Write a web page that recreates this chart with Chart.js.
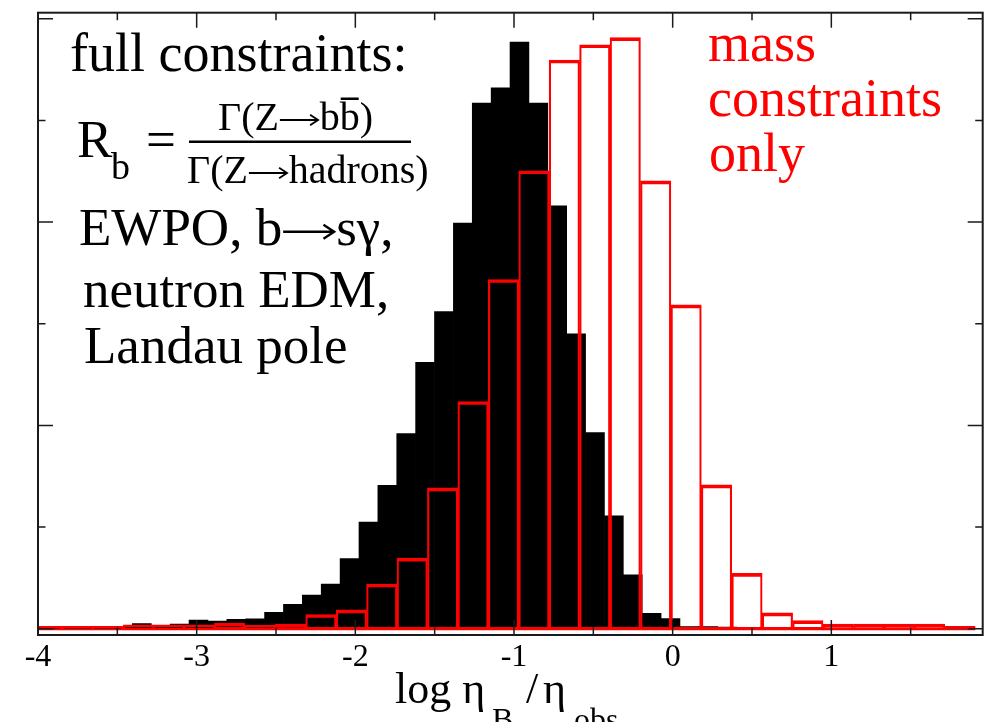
<!DOCTYPE html>
<html>
<head>
<meta charset="utf-8">
<script src="https://cdn.jsdelivr.net/npm/chart.js@4.4.0/dist/chart.umd.min.js"></script>
<style>
  html, body { margin: 0; padding: 0; background: #fff; }
</style>
</head>
<body>
<canvas id="histo" width="995" height="722"></canvas>
<script>
// full constraints histogram (black, filled): 50 bins of 0.119 from -4
var blackStart = -4.0;
var blackWidth = 0.119;
var blackCounts = [0.015, 0.015, 0.015, 0.015, 0.02, 0.05, 0.025, 0.046, 0.086, 0.076,
                   0.093, 0.096, 0.16, 0.24, 0.33, 0.44, 0.69, 1.05, 1.41, 1.92,
                   2.62, 3.12, 3.99, 5.17, 5.32, 5.77, 5.17, 4.16, 2.90, 1.93,
                   1.11, 0.53, 0.15, 0.10, 0.02, 0.02, 0.015, 0.01, 0, 0,
                   0, 0, 0, 0, 0, 0, 0, 0, 0, 0];

// mass constraints only (red, outlined): 31 bins of 0.1918
var redStart = -4.039;
var redWidth = 0.1918;
var redCounts = [0.024, 0.024, 0.024, 0.037, 0.037, 0.037, 0.056, 0.034, 0.046, 0.14,
                 0.185, 0.44, 0.695, 1.385, 2.235, 3.435, 4.505, 5.595, 5.745, 5.815,
                 4.405, 3.185, 1.415, 0.545, 0.155, 0.08, 0.046, 0.046, 0.046, 0.046,
                 0.024];

var xTicks = [-4, -3, -2, -1, 0, 1];
var xMinor = [-3.5, -2.5, -1.5, -0.5, 0.5, 1.5];
var yMajor = [0, 2, 4, 6];
var yMinor = [1, 3, 5];

var serif = "'Liberation Serif', 'Times New Roman', serif";

function toPoints(start, width, counts) {
	var pts = [];
	for (var i = 0; i < counts.length; i++) {
		pts.push({ x: start + (i + 0.5) * width, y: counts[i] });
	}
	return pts;
}

function setTicks(axis) {
	axis.ticks = xTicks.map(function(v) { return { value: v }; });
}

// frame + inward ticks, like the original plot
var framePlugin = {
	id: 'frame',
	afterDatasetsDraw: function(chart) {
		var ctx = chart.ctx, a = chart.chartArea;
		var xs = chart.scales.x, ys = chart.scales.y;
		ctx.save();
		ctx.strokeStyle = '#1a1a1a';
		ctx.lineWidth = 1.5;
		ctx.beginPath();
		function xt(list, len) {
			list.forEach(function(v) {
				var px = xs.getPixelForValue(v);
				ctx.moveTo(px, a.bottom); ctx.lineTo(px, a.bottom - len);
				ctx.moveTo(px, a.top); ctx.lineTo(px, a.top + len);
			});
		}
		function yt(list, len) {
			list.forEach(function(v) {
				var py = ys.getPixelForValue(v);
				ctx.moveTo(a.left, py); ctx.lineTo(a.left + len, py);
				ctx.moveTo(a.right, py); ctx.lineTo(a.right - len, py);
			});
		}
		xt(xTicks, 15); xt(xMinor, 7.5);
		yt(yMajor, 15); yt(yMinor, 7.5);
		ctx.stroke();
		ctx.lineWidth = 2;
		ctx.strokeRect(a.left, a.top, a.right - a.left, a.bottom - a.top);
		ctx.restore();
	}
};

// draws a run of text pieces; '>' is a hand drawn long arrow
function run(ctx, parts, x, y, size, color) {
	ctx.font = size + 'px ' + serif;
	ctx.fillStyle = color;
	ctx.strokeStyle = color;
	var pos = [];
	parts.forEach(function(p) {
		pos.push(x);
		if (p === '>') {
			var len = size * 0.98, ay = y - size * 0.25;
			ctx.lineWidth = Math.max(1.5, size * 0.045);
			ctx.beginPath();
			ctx.moveTo(x + 1, ay); ctx.lineTo(x + len, ay);
			ctx.moveTo(x + len - size * 0.2, ay - size * 0.13);
			ctx.lineTo(x + len, ay);
			ctx.lineTo(x + len - size * 0.2, ay + size * 0.13);
			ctx.stroke();
			x += len + size * 0.04;
		} else {
			ctx.fillText(p, x, y);
			x += ctx.measureText(p).width;
		}
	});
	pos.push(x);
	return pos;
}

var textPlugin = {
	id: 'notes',
	afterDraw: function(chart) {
		var ctx = chart.ctx;
		ctx.save();
		ctx.textBaseline = 'alphabetic';
		ctx.textAlign = 'left';

		run(ctx, ['full constraints:'], 70, 71, 54, '#000');

		// R_b = fraction
		run(ctx, ['R'], 77, 157, 53, '#000');
		run(ctx, ['b'], 111, 179, 38, '#000');
		run(ctx, ['='], 146, 157, 53, '#000');
		var num = run(ctx, ['\u0393(Z', '>', 'b', 'b', ')'], 218, 130, 40, '#000');
		ctx.fillRect(num[3] + 1, 97.5, num[4] - num[3] - 2, 2.5);
		ctx.fillRect(189, 140.5, 222, 2.5);
		run(ctx, ['\u0393(Z', '>', 'hadrons)'], 187, 183, 40, '#000');

		run(ctx, ['EWPO, b', '>', 's\u03b3,'], 79, 245, 53, '#000');
		run(ctx, ['neutron EDM,'], 83, 307, 53, '#000');
		run(ctx, ['Landau pole'], 84, 363, 53, '#000');

		run(ctx, ['mass'], 708, 61, 54, '#ff0000');
		run(ctx, ['constraints'], 708, 116, 54, '#ff0000');
		run(ctx, ['only'], 709, 171, 54, '#ff0000');

		// axis title: log eta_B / eta_obs
		run(ctx, ['log \u03b7'], 395, 703, 44, '#000');
		run(ctx, ['B'], 492, 730, 32, '#000');
		run(ctx, ['/'], 526, 703, 44, '#000');
		run(ctx, ['\u03b7'], 543, 703, 44, '#000');
		run(ctx, ['obs'], 574, 730, 32, '#000');
		ctx.restore();
	}
};

window.onload = function() {
	var ctx = document.getElementById('histo');
	window.histo = new Chart(ctx, {
		type: 'bar',
		data: {
			datasets: [{
				label: 'full constraints',
				data: toPoints(blackStart, blackWidth, blackCounts),
				xAxisID: 'x',
				backgroundColor: '#000000',
				borderWidth: 0,
				clip: 0,
				order: 2
			}, {
				label: 'mass constraints only',
				data: toPoints(redStart, redWidth, redCounts),
				xAxisID: 'x2',
				backgroundColor: 'rgba(255,255,255,0)',
				borderColor: '#ff0000',
				borderWidth: { top: 3, bottom: 3, left: 1.5, right: 1.5 },
				borderSkipped: false,
				base: -0.015,
				clip: 0,
				order: 1
			}]
		},
		options: {
			responsive: false,
			animation: false,
			devicePixelRatio: 1,
			datasets: { bar: { barPercentage: 1, categoryPercentage: 1, grouped: false } },
			layout: { padding: { left: 38, right: 12.3, top: 12.7, bottom: 42.6 } },
			plugins: { legend: { display: false }, tooltip: { enabled: false } },
			scales: {
				x: {
					type: 'linear', min: -4, max: 1.954, offset: false,
					afterBuildTicks: setTicks,
					grid: { display: false, drawTicks: false, offset: false },
					border: { display: false },
					ticks: {
						color: '#000', padding: 3,
						font: { family: serif, size: 32 },
						callback: function(v) { return String(v); }
					}
				},
				x2: {
					type: 'linear', min: -4, max: 1.954, display: false, offset: false,
					grid: { offset: false },
					afterBuildTicks: setTicks
				},
				y: { type: 'linear', min: -0.062, max: 6.06, display: false }
			}
		},
		plugins: [framePlugin, textPlugin]
	});
};
</script>
</body>
</html>
